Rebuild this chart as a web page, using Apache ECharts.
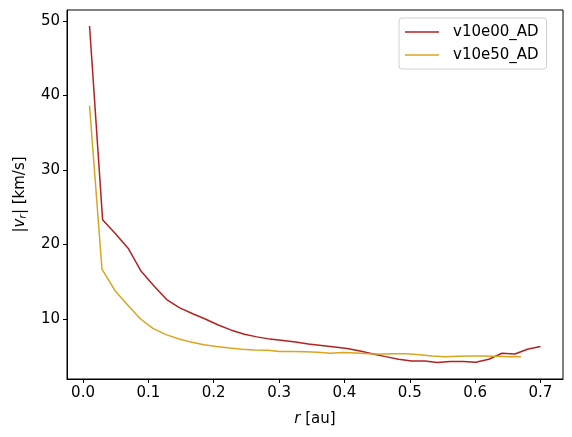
<!DOCTYPE html>
<html>
<head>
<meta charset="utf-8">
<script src="https://cdn.jsdelivr.net/npm/echarts@6/dist/echarts.min.js"></script>
<style>html,body{margin:0;padding:0;background:#fff}#c{width:572px;height:437px}</style>
</head>
<body>
<div id="c"></div>
<script>
var seriesNames = ['v10e00_AD', 'v10e50_AD'];
var rA = [0.010,0.030,0.049,0.069,0.089,0.109,0.128,0.148,0.168,0.187,0.207,0.227,0.247,0.266,0.286,0.306,0.325,0.345,0.365,0.385,0.404,0.424,0.444,0.463,0.483,0.503,0.523,0.542,0.562,0.582,0.601,0.621,0.641,0.661,0.680,0.700];
var vA = [49.3,23.3,21.5,19.5,16.4,14.4,12.6,11.5,10.7,10.0,9.2,8.5,7.95,7.6,7.3,7.1,6.9,6.65,6.45,6.25,6.05,5.7,5.3,4.95,4.6,4.35,4.35,4.15,4.3,4.3,4.2,4.6,5.4,5.3,5.95,6.3];
var rB = [0.010,0.029,0.049,0.068,0.088,0.107,0.127,0.146,0.165,0.185,0.204,0.224,0.243,0.262,0.282,0.301,0.321,0.340,0.359,0.379,0.398,0.418,0.437,0.457,0.476,0.495,0.515,0.534,0.554,0.573,0.592,0.612,0.631,0.651,0.670];
var vB = [38.6,16.7,13.8,11.9,10.0,8.75,7.9,7.35,6.9,6.55,6.3,6.1,5.95,5.85,5.8,5.65,5.65,5.6,5.55,5.4,5.5,5.45,5.35,5.3,5.35,5.35,5.2,5.05,4.95,5.0,5.05,5.05,5.0,4.95,4.95];
var xTicks = [0.0,0.1,0.2,0.3,0.4,0.5,0.6,0.7];
var yTicks = [10,20,30,40,50];

function pairs(xs, ys){ return xs.map(function(x,i){ return [x, ys[i]]; }); }

var font = 'DejaVu Sans';
var chart = echarts.init(document.getElementById('c'));
chart.setOption({
  animation: false,
  backgroundColor: '#fff',
  textStyle: { fontFamily: font },
  grid: { left: 67, right: 9, top: 10, bottom: 58, show: true, borderColor: '#000', borderWidth: 1, backgroundColor: 'transparent' },
  legend: {
    orient: 'vertical', left: 399, top: 18,
    padding: [5, 8, 5, 6], itemGap: 5,
    backgroundColor: '#fff', borderColor: '#d0d0d0', borderWidth: 1, borderRadius: 3,
    icon: 'rect', itemWidth: 34, itemHeight: 1.6,
    textStyle: { fontFamily: font, fontSize: 15, color: '#000', lineHeight: 18, padding: [0,0,0,9] },
    data: seriesNames
  },
  xAxis: {
    type: 'value', min: -0.0245, max: 0.7345,
    name: '{i|r} [au]', nameLocation: 'middle', nameGap: 33,
    nameTextStyle: { fontFamily: font, fontSize: 15, color: '#000', rich: { i: { fontFamily: font, fontStyle: 'italic', fontSize: 15, color: '#000' } } },
    axisLine: { show: true, onZero: false, lineStyle: { color: '#000', width: 1 } },
    axisTick: { show: true, inside: false, length: 4, customValues: xTicks, lineStyle: { color: '#000' } },
    axisLabel: { customValues: xTicks, color: '#000', fontSize: 15, fontFamily: font, margin: 7, formatter: function(v){ return v.toFixed(1); } },
    splitLine: { show: false }
  },
  yAxis: {
    type: 'value', min: 1.95, max: 51.45,
    name: '|{i|v}{s|r}| [km/s]', nameLocation: 'middle', nameGap: 38, nameRotate: 90,
    nameTextStyle: { fontFamily: font, fontSize: 15, color: '#000', rich: {
      i: { fontFamily: font, fontStyle: 'italic', fontSize: 15, color: '#000' },
      s: { fontFamily: font, fontStyle: 'italic', fontSize: 11, color: '#000', padding: [6,0,0,0] } } },
    axisLine: { show: true, onZero: false, lineStyle: { color: '#000', width: 1 } },
    axisTick: { show: true, inside: false, length: 4, customValues: yTicks, lineStyle: { color: '#000' } },
    axisLabel: { customValues: yTicks, color: '#000', fontSize: 15, fontFamily: font, margin: 7 },
    splitLine: { show: false }
  },
  series: [
    { name: seriesNames[0], type: 'line', data: pairs(rA, vA), showSymbol: false, symbol: 'none', color: '#b22222', lineStyle: { color: '#b22222', width: 1.5 } },
    { name: seriesNames[1], type: 'line', data: pairs(rB, vB), showSymbol: false, symbol: 'none', color: '#daa520', lineStyle: { color: '#daa520', width: 1.5 } }
  ]
});
</script>
</body>
</html>
